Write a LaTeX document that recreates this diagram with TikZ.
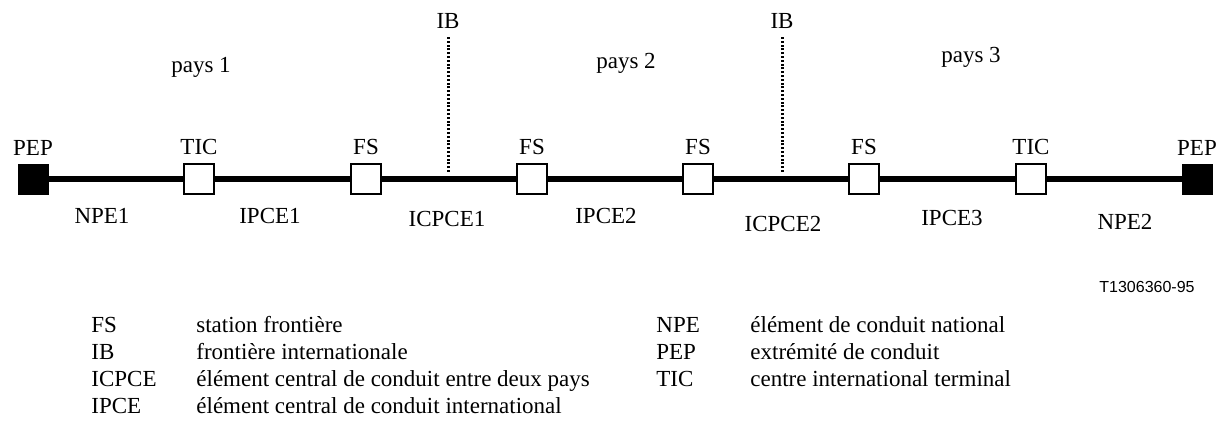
\documentclass[tikz,border=0pt]{standalone}
\usepackage{fontspec}
\setmainfont{Liberation Serif}
\newfontfamily\codefont{Liberation Sans}
\usetikzlibrary{positioning}
\tikzstyle{Conduit} = [
%thick conduit line between stations
line width = 3pt
]
\begin{document}
\begin{tikzpicture}[
		x = 0.5pt, y = -0.5pt,
		tag/.style = {font = \fontsize{11.5}{13.5}\selectfont, inner sep = 0pt},
		station/.style = {rectangle, draw, line width = 0.75pt, fill = white, minimum size = 15pt, inner sep = 0pt},
		endpoint/.style = {rectangle, draw, fill = black, minimum size = 15pt, inner sep = 0pt},
		border/.style = {line width = 1.5pt, dash pattern = on 1pt off 0.9pt},
	]
	\useasboundingbox (0,0) rectangle (1216,421);

	\node[endpoint] (PEPL) at (33,179) {};
	\node[station] (TIC1) at (199,179) {};
	\node[station] (FS1) at (366,179) {};
	\node[station] (FS2) at (532,179) {};
	\node[station] (FS3) at (698,179) {};
	\node[station] (FS4) at (864,179) {};
	\node[station] (TIC2) at (1031,179) {};
	\node[endpoint] (PEPR) at (1197,179) {};

	\node[tag, above = 4pt of PEPL] (PEPLname) {PEP};
	\node[tag, above = 4pt of TIC1] (TIC1name) {TIC};
	\node[tag, above = 4pt of FS1] (FS1name) {FS};
	\node[tag, above = 4pt of FS2] (FS2name) {FS};
	\node[tag, above = 4pt of FS3] (FS3name) {FS};
	\node[tag, above = 4pt of FS4] (FS4name) {FS};
	\node[tag, above = 4pt of TIC2] (TIC2name) {TIC};
	\node[tag, above = 4pt of PEPR] (PEPRname) {PEP};

	\draw[Conduit](PEPL)--(TIC1)--(FS1)--(FS2)--(FS3)--(FS4)--(TIC2)--(PEPR);

	% international borders
	\node[tag] (IB1) at (448,21) {IB};
	\node[tag] (IB2) at (782,21) {IB};
	\coordinate (IB1foot) at (448,172);
	\coordinate (IB2foot) at (782,172);
	\draw[border](IB1foot)--([yshift = -3.5pt]IB1.south);
	\draw[border](IB2foot)--([yshift = -3.5pt]IB2.south);

	\node[tag] (P1) at (201,67) {pays 1};
	\node[tag] (P2) at (626,63) {pays 2};
	\node[tag] (P3) at (971,57) {pays 3};

	\node[tag] (NPE1) at (102,216) {NPE1};
	\node[tag] (IPCE1) at (270,216) {IPCE1};
	\node[tag] (ICPCE1) at (447,219) {ICPCE1};
	\node[tag] (IPCE2) at (606,216) {IPCE2};
	\node[tag] (ICPCE2) at (783,224) {ICPCE2};
	\node[tag] (IPCE3) at (952,218) {IPCE3};
	\node[tag] (NPE2) at (1125,222) {NPE2};

	\node[font = \codefont\fontsize{8}{10}\selectfont, inner sep = 0pt, anchor = east] (code) at (1195,287) {T1306360-95};

	% legend
	\foreach \abbr/\desc [count = \i] in {FS/station frontière, IB/frontière internationale, ICPCE/élément central de conduit entre deux pays, IPCE/élément central de conduit international}{
		\node[tag, anchor = base west] (keyL\i) at (91,306+27*\i) {\abbr};
		\node[tag, anchor = base west] (descL\i) at (196,306+27*\i) {\desc};
	}
	\foreach \abbr/\desc [count = \i] in {NPE/élément de conduit national, PEP/extrémité de conduit, TIC/centre international terminal}{
		\node[tag, anchor = base west] (keyR\i) at (656,306+27*\i) {\abbr};
		\node[tag, anchor = base west] (descR\i) at (750,306+27*\i) {\desc};
	}

\end{tikzpicture}
\end{document}
